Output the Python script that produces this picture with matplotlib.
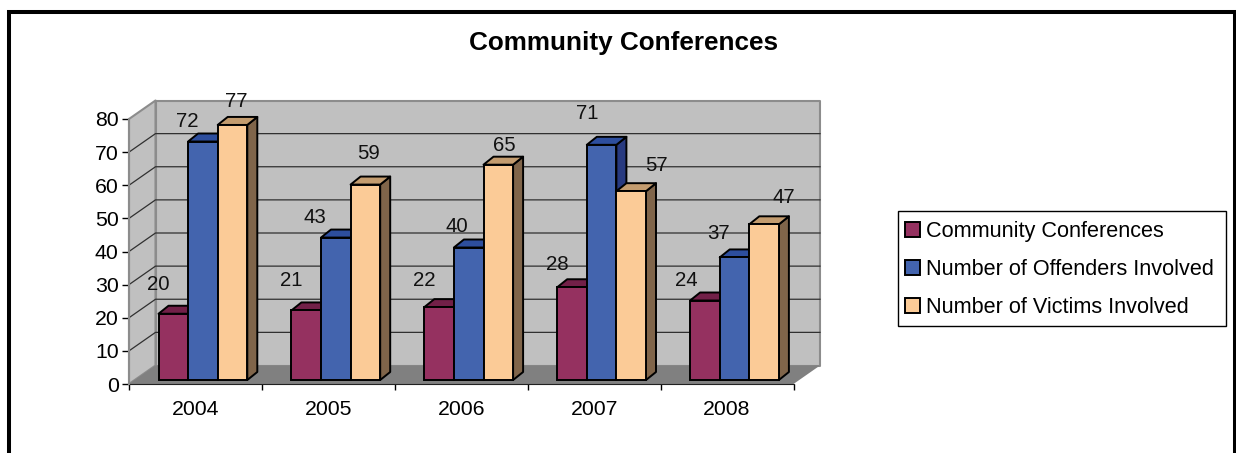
import matplotlib
matplotlib.use('Agg')
import matplotlib.pyplot as plt
from matplotlib.patches import Polygon, Rectangle, Patch

plt.rcParams['font.family'] = ['Liberation Sans', 'DejaVu Sans']

W, H = 1236, 453

years = ['2004', '2005', '2006', '2007', '2008']
conferences = [20, 21, 22, 28, 24]
offenders = [72, 43, 40, 71, 37]
victims = [77, 59, 65, 57, 47]
series_names = ['Community Conferences', 'Number of Offenders Involved', 'Number of Victims Involved']

# front, top, side colours of the bars
front_cols = ['#953160', '#4364AE', '#FBCB97']
top_cols = ['#722048', '#2D4E9E', '#C39C6F']
side_cols = ['#5E1B3C', '#283A80', '#80654A']

# label offsets from the bar's top centre, in pixels (one row per series)
label_dx = [[-15, -15, -15, -15, -19], [-16, -21, -12, -14, -16], [4, 3, 6, 25, 20]]
label_dy = [[29, 30, 27, 23, 20], [20, 20, 21, 31, 24], [23, 31, 19, 26, 27]]

fig = plt.figure(figsize=(W / 100, H / 100), dpi=100)
# outer frame, runs off the bottom of the picture
fig.patches.append(Rectangle((9 / W, -0.1), (1234.5 - 9) / W, 1.1 - 12 / H, transform=fig.transFigure,
                             fill=False, ec='black', lw=2.9))

# axes = the front plane of the 3d box
left, right, bottom, top = 129, 793.5, 384, 119
ax = fig.add_axes([left / W, 1 - bottom / H, (right - left) / W, (bottom - top) / H])
ax.set_xlim(0, 5)
ax.set_ylim(0, 80)
ax.patch.set_visible(False)
px_x = 5 / (right - left)
px_y = 80 / (bottom - top)

dep_x, dep_y = 26.5 * px_x, 18.5 * px_y

def poly(pts, fc, ec='none', lw=0, z=1):
    ax.add_patch(Polygon(pts, closed=True, fc=fc, ec=ec, lw=lw, zorder=z, clip_on=False, joinstyle='round'))

# walls and floor
poly([(dep_x, dep_y), (5 + dep_x, dep_y), (5 + dep_x, 80 + dep_y), (dep_x, 80 + dep_y)], '#C0C0C0', '#8C8C8C', 1.5)
poly([(0, 0), (dep_x, dep_y), (dep_x, 80 + dep_y), (0, 80)], '#C0C0C0', '#8C8C8C', 1.5)
poly([(0, 0), (5, 0), (5 + dep_x, dep_y), (dep_x, dep_y)], '#808080')

for v in range(10, 80, 10):
    ax.plot([0, dep_x, 5 + dep_x], [v, v + dep_y, v + dep_y], color='#303030', lw=0.9, zorder=1.5, clip_on=False)

# bars
bar_w = 29.6 * px_x
off_x = 29.5 * px_x
base = 4 * px_y
bd_x, bd_y = 10 * px_x, 8 * px_y
all_vals = [conferences, offenders, victims]
z = 2
for i in range(len(years)):
    for s, vals in enumerate(all_vals):
        x0 = i + off_x + s * bar_w
        x1 = x0 + bar_w
        y1 = base + vals[i]
        poly([(x1, base), (x1 + bd_x, base + bd_y), (x1 + bd_x, y1 + bd_y), (x1, y1)], side_cols[s], 'black', 1.4, z)
        poly([(x0, y1), (x1, y1), (x1 + bd_x, y1 + bd_y), (x0 + bd_x, y1 + bd_y)], top_cols[s], 'black', 1.4, z)
        ax.bar(x0, vals[i], bar_w, bottom=base, align='edge', color=front_cols[s], edgecolor='black', lw=1.4,
               zorder=z + 0.1, clip_on=False)
        z += 0.2

for i in range(len(years)):
    for s, vals in enumerate(all_vals):
        xc = i + off_x + (s + 0.5) * bar_w
        ax.annotate(str(vals[i]), (xc, base + vals[i]), xytext=(label_dx[s][i] * 0.72, label_dy[s][i] * 0.72),
                    textcoords='offset points', ha='center', va='center', fontsize=14.7, zorder=50, color='#111111')

for sp in ['top', 'right']:
    ax.spines[sp].set_visible(False)
ax.spines['left'].set_color('#8C8C8C')
ax.spines['left'].set_linewidth(1.5)
ax.spines['bottom'].set_color('#202020')
ax.spines['bottom'].set_zorder(1.8)
ax.set_yticks(range(0, 81, 10))
ax.tick_params(axis='y', length=5, width=1, labelsize=15.3, pad=2.5)
ax.set_xticks(range(0, 6))
ax.set_xticklabels([])
ax.tick_params(axis='x', which='major', length=4.3, width=1)
ax.set_xticks([i + 0.5 for i in range(5)], minor=True)
ax.set_xticklabels(years, minor=True, fontsize=15.3)
ax.tick_params(axis='x', which='minor', length=0, pad=11.7)

fig.text(624 / W, 1 - 43 / H, 'Community Conferences', ha='center', va='center', fontsize=18.8, fontweight='bold')

# legend frame is separate so the box size can follow the reference
fig.patches.append(Rectangle((897.5 / W, 1 - 326 / H), 328 / W, 115 / H, transform=fig.transFigure,
                             fc='white', ec='black', lw=1))
handles = [Patch(fc=c, ec='black', lw=1.4) for c in front_cols]
leg = fig.legend(handles, series_names, loc='upper left', bbox_to_anchor=(905 / W, 1 - 221 / H), fontsize=15.6,
                 frameon=False, borderaxespad=0, borderpad=0,
                 handlelength=0.67, handleheight=0.67, handletextpad=0.3, labelspacing=0.78)

fig.savefig('out.png', dpi=100)
